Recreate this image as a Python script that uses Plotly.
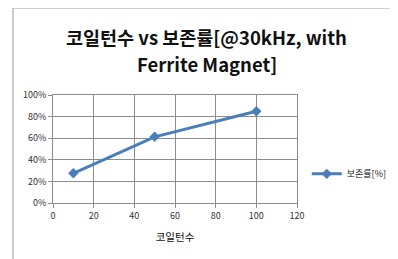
import plotly.graph_objects as go

turns = [10, 50, 100]
retention = [0.275, 0.613, 0.85]
series_name = "보존률[%]"
title_line1 = "<b>코일턴수 vs 보존률[@30kHz, with</b>"
title_line2 = "<b>Ferrite Magnet]</b>"
x_title = "코일턴수"

font_family = "Noto Sans CJK KR, Noto Sans, sans-serif"

fig = go.Figure()
fig.add_trace(go.Scatter(
    x=turns, y=retention, mode="lines+markers", name=series_name,
    line=dict(color="#4A7EBB", width=3),
    marker=dict(symbol="diamond", size=8, color="#4A7EBB"),
))

fig.update_layout(
    width=390, height=251,
    margin=dict(l=45, r=101, t=87, b=56, autoexpand=False),
    paper_bgcolor="white", plot_bgcolor="white",
    font=dict(family=font_family, size=9, color="#333"),
    showlegend=True,
    legend=dict(x=1.04, xanchor="left", y=0.27, yanchor="middle",
                font=dict(size=9, color="#222"), itemwidth=30,
                bgcolor="rgba(0,0,0,0)"),
    xaxis=dict(range=[0, 120], dtick=20, showgrid=True, gridcolor="#8c8c8c", gridwidth=1,
               showline=True, linecolor="#8c8c8c", ticks="outside", ticklen=4, tickcolor="#8c8c8c",
               zeroline=False, mirror=True,
               title=dict(text=x_title, font=dict(size=10.5, color="#111"), standoff=12)),
    yaxis=dict(range=[0, 1], dtick=0.2, tickformat=".0%", showgrid=True, gridcolor="#8c8c8c",
               gridwidth=1, showline=True, linecolor="#8c8c8c", ticks="outside", ticklen=4,
               tickcolor="#8c8c8c", zeroline=False, mirror=True),
    annotations=[
        dict(text=title_line1, xref="paper", yref="paper", x=0.631, y=1.537,
             xanchor="center", yanchor="middle", showarrow=False,
             font=dict(family=font_family, size=18.5, color="#111")),
        dict(text=title_line2, xref="paper", yref="paper", x=0.631, y=1.287,
             xanchor="center", yanchor="middle", showarrow=False,
             font=dict(family=font_family, size=18.5, color="#111")),
    ],
    shapes=[dict(type="rect", xref="paper", yref="paper", x0=-0.164, x1=1.5, y0=-0.6, y1=1.806,
                 line=dict(color="#999", width=1))],
)

fig.write_html("out.html")
